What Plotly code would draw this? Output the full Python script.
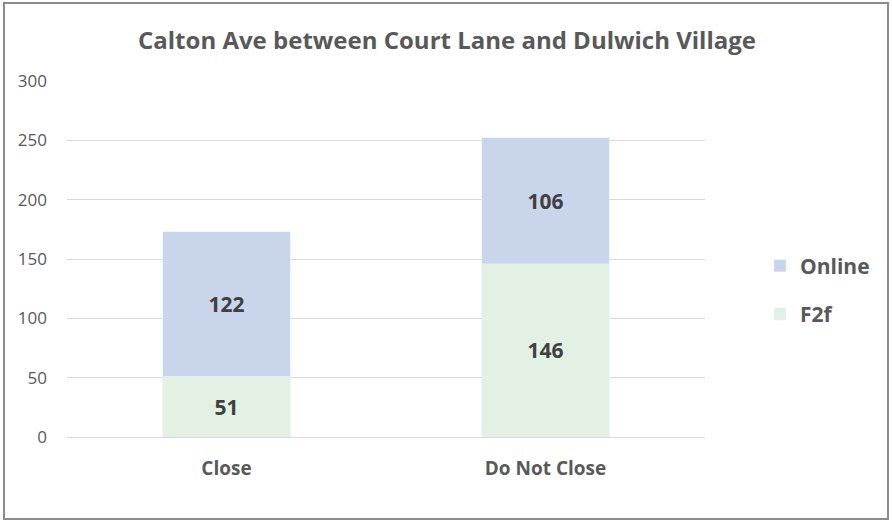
import plotly.graph_objects as go

categories = ["Close", "Do Not Close"]
f2f = [51, 146]
online = [122, 106]
y_ticks = [0, 50, 100, 150, 200, 250, 300]

W, H = 892, 522
L, R, T, B = 67, 187, 81, 85
pw, ph = W - L - R, H - T - B

font_family = "'Open Sans', sans-serif"
label_font = dict(size=21, color="#404040", family=font_family)

fig = go.Figure()
fig.add_trace(go.Bar(
    name="<b>F2f</b>", x=categories, y=f2f, marker_color="#E3F1E4",
    text=f2f, texttemplate="<b>%{text}</b>", textposition="inside",
    insidetextanchor="middle", textfont=label_font,
    legendgroup="f2f", legendrank=2,
))
fig.add_trace(go.Bar(
    name="<b>Online</b>", x=categories, y=online, marker_color="#C9D5EB",
    text=online, texttemplate="<b>%{text}</b>", textposition="inside",
    insidetextanchor="middle", textfont=label_font,
    legendgroup="online", legendrank=1,
))

# outer frame of the chart
fig.add_shape(type="rect", xref="paper", yref="paper",
              x0=(4 - L) / pw, x1=(888 - L) / pw,
              y0=(T + ph - 519) / ph, y1=(T + ph - 3) / ph,
              line=dict(color="#8C8C8C", width=2), fillcolor="rgba(0,0,0,0)", layer="below")

fig.update_layout(
    width=W, height=H,
    margin=dict(l=L, r=R, t=T, b=B),
    barmode="stack", bargap=0.6,
    plot_bgcolor="white", paper_bgcolor="white",
    font=dict(family=font_family, color="#595959"),
    title=dict(text="<b>Calton Ave between Court Lane and Dulwich Village</b>",
               x=447 / W, xanchor="center", y=1 - 41 / H, yanchor="middle",
               font=dict(size=24, color="#595959", family=font_family)),
    yaxis=dict(range=[0, 300], tickvals=y_ticks, showgrid=True, gridcolor="#D9D9D9",
               gridwidth=1, zeroline=False, showline=False, ticks="",
               tickfont=dict(size=17, color="#595959"), ticklabelstandoff=19),
    xaxis=dict(showline=True, linecolor="#D9D9D9", ticks="",
               tickvals=categories, ticktext=["<b>%s</b>" % c for c in categories],
               tickfont=dict(size=19, color="#595959"), ticklabelstandoff=14),
    legend=dict(x=(760 - L) / pw, xanchor="left", y=(T + ph - 290) / ph, yanchor="middle",
                traceorder="grouped", tracegroupgap=18,
                font=dict(size=21, color="#595959"), itemwidth=30),
    showlegend=True,
)

fig.write_html("out.html")
